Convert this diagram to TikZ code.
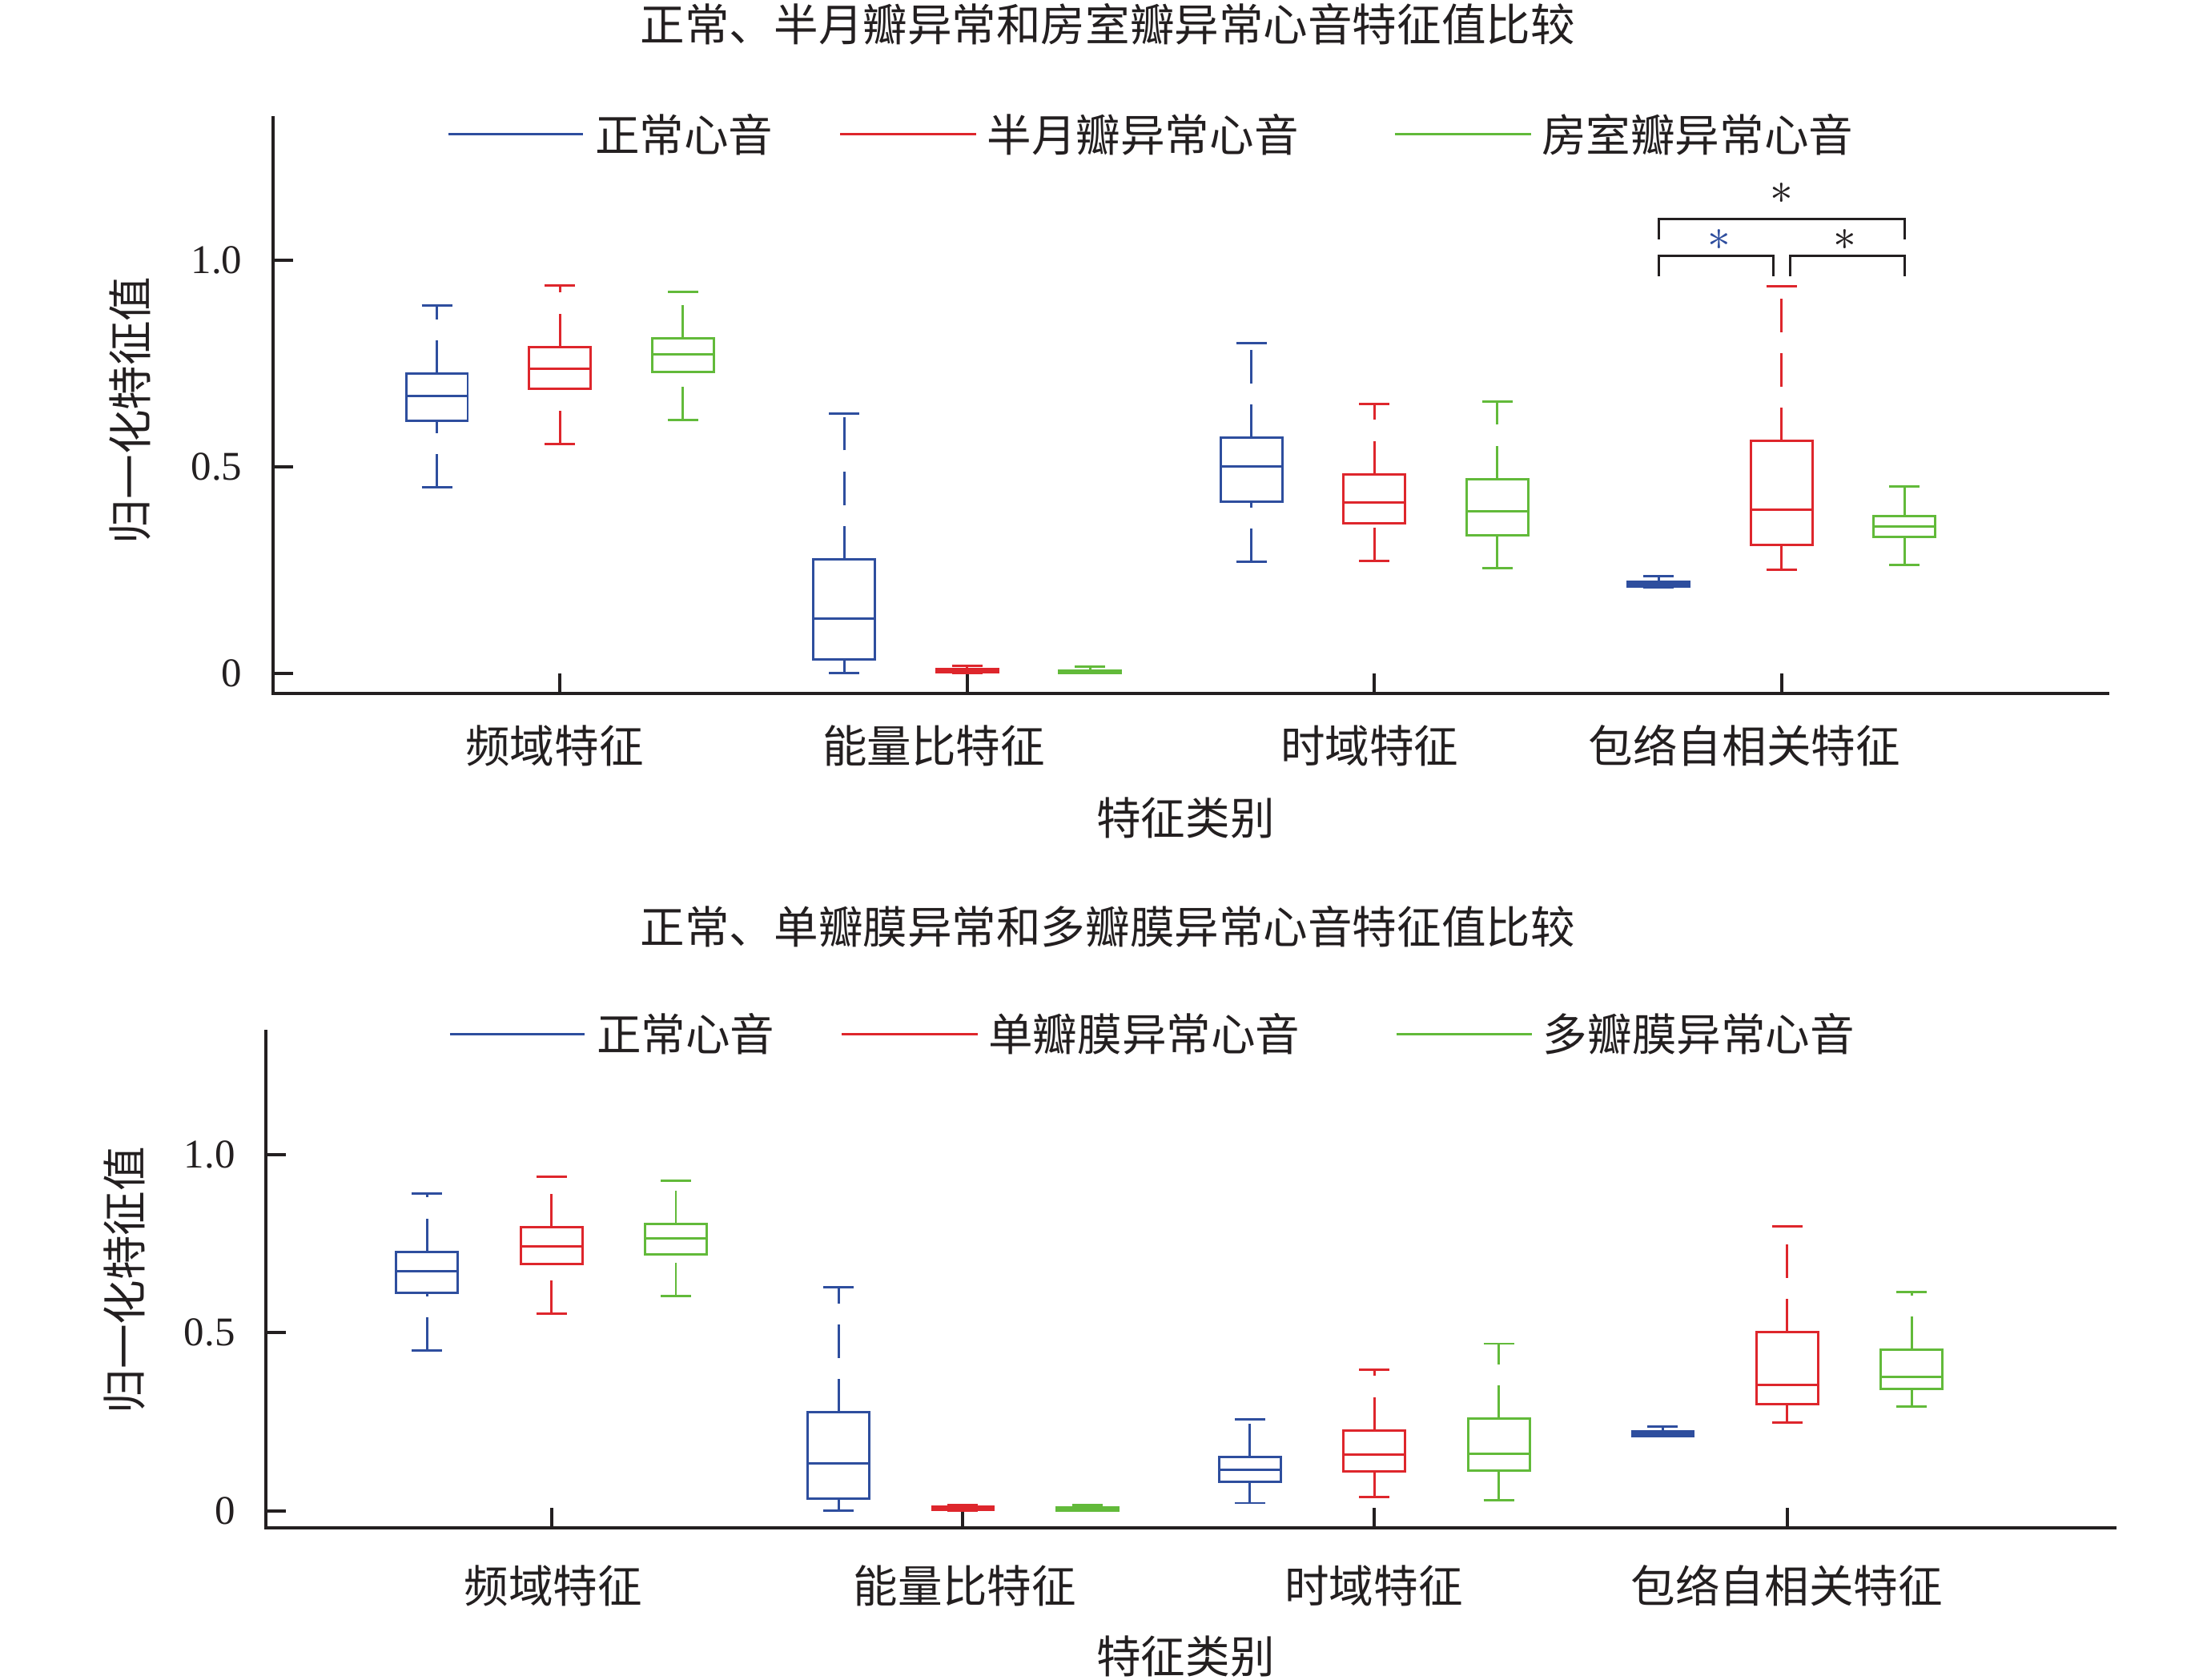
\documentclass[tikz,border=0pt]{standalone}
\usepackage{fontspec}
\setmainfont{Liberation Serif}
\newfontfamily\cjk{Noto Sans CJK SC}

\definecolor{boxblue}{RGB}{46,78,158}
\definecolor{boxred}{RGB}{222,38,44}
\definecolor{boxgreen}{RGB}{98,186,58}
\definecolor{inkblack}{RGB}{35,31,32}

\tikzset{
  axisline/.style={line width=0.65pt, inkblack},
  boxline/.style={line width=0.48pt},
  whisker/.style={boxline, dash pattern=on 0.235cm off 0.15cm},
  cnlabel/.style={font=\cjk\fontsize{8.95}{10}\selectfont, inner sep=0pt, text=inkblack},
  numlabel/.style={font=\fontsize{8.2}{10}\selectfont, inner sep=0pt, anchor=east, text=inkblack},
  starlabel/.style={font=\fontsize{9.5}{10}\selectfont, inner sep=0pt},
}

% one box: x, low, q1, median, q3, high, colour
\newcommand{\bplot}[7]{%
  \draw[whisker,#7] (#1,#2) -- (#1,#3);
  \draw[whisker,#7] (#1,#5) -- (#1,#6);
  \draw[boxline,#7] (#1-10.75,#2) -- (#1+10.75,#2);
  \draw[boxline,#7] (#1-10.75,#6) -- (#1+10.75,#6);
  \draw[boxline,#7] (#1-21.75,#3) rectangle (#1+21.75,#5);
  \draw[boxline,#7] (#1-21.75,#4) -- (#1+21.75,#4);
}

\begin{document}
\begin{tikzpicture}

    \useasboundingbox (0,0) rectangle (15.6,11.87);

    % 1. Upper panel: titles and legend
    \node[cnlabel] (title1) at (7.83,11.70) {正常、半月瓣异常和房室瓣异常心音特征值比较};
    \draw[boxline,boxblue]  (3.17,10.92) -- (4.12,10.92);
    \node[cnlabel,anchor=west] (legA1) at (4.20,10.92) {正常心音};
    \draw[boxline,boxred]   (5.94,10.92) -- (6.90,10.92);
    \node[cnlabel,anchor=west] (legA2) at (6.97,10.92) {半月瓣异常心音};
    \draw[boxline,boxgreen] (9.86,10.92) -- (10.82,10.92);
    \node[cnlabel,anchor=west] (legA3) at (10.89,10.92) {房室瓣异常心音};
    \node[cnlabel,rotate=90] (ylabA) at (0.92,8.97) {归一化特征值};
    \node[cnlabel] (catA1) at (3.92,6.60) {频域特征};
    \node[cnlabel] (catA2) at (6.60,6.60) {能量比特征};
    \node[cnlabel] (catA3) at (9.68,6.60) {时域特征};
    \node[cnlabel] (catA4) at (12.33,6.60) {包络自相关特征};
    \node[cnlabel] (xlabA) at (8.38,6.09) {特征类别};

    % 2. Upper panel: axes and boxes
    \begin{scope}[x=0.01cm, y=2.92cm, yshift=7.11cm]
        \draw[axisline] (193,1.349) -- (193,-0.048) -- (1492,-0.048);
        \foreach \v/\t [count=\i] in {0/0, 0.5/0.5, 1/1.0} {
            \draw[axisline] (193,\v) -- ++(0.14cm,0pt);
            \node[numlabel] (ytA\i) at (172,\v) {\t};
        }
        \foreach \c in {396,684,972,1260}
            \draw[axisline] (\c,-0.048) -- ++(0pt,0.14cm);

        \foreach \xc/\lo/\qa/\md/\qb/\hi/\cl in {
            309/0.450/0.612/0.672/0.725/0.890/boxblue,
            396/0.556/0.688/0.737/0.790/0.939/boxred,
            483/0.613/0.730/0.773/0.812/0.924/boxgreen,
            597/0.000/0.033/0.132/0.276/0.628/boxblue,
            684/0.000/0.002/0.006/0.010/0.019/boxred,
            771/0.000/0.001/0.004/0.007/0.016/boxgreen,
            885/0.270/0.415/0.501/0.570/0.800/boxblue,
            972/0.272/0.364/0.413/0.482/0.652/boxred,
            1059/0.255/0.334/0.392/0.470/0.658/boxgreen,
            1173/0.209/0.211/0.216/0.222/0.236/boxblue,
            1260/0.250/0.310/0.396/0.562/0.937/boxred,
            1347/0.263/0.330/0.355/0.381/0.452/boxgreen} {
            \bplot{\xc}{\lo}{\qa}{\md}{\qb}{\hi}{\cl}
        }

        % significance brackets
        \draw[boxline,inkblack] (1173,1.050) -- (1173,1.100) -- (1347,1.100) -- (1347,1.050);
        \draw[boxline,inkblack] (1173,0.961) -- (1173,1.011) -- (1254,1.011) -- (1254,0.961);
        \draw[boxline,inkblack] (1266,0.961) -- (1266,1.011) -- (1347,1.011) -- (1347,0.961);
        \node[starlabel,text=inkblack] (sigAll) at (1260,1.161) {$\ast$};
        \node[starlabel,text=boxblue] (sigLeft) at (1216,1.050) {$\ast$};
        \node[starlabel,text=inkblack] (sigRight) at (1305,1.050) {$\ast$};
    \end{scope}

    % 3. Lower panel: titles and legend
    \node[cnlabel] (title2) at (7.83,5.32) {正常、单瓣膜异常和多瓣膜异常心音特征值比较};
    \draw[boxline,boxblue]  (3.18,4.56) -- (4.13,4.56);
    \node[cnlabel,anchor=west] (legB1) at (4.21,4.56) {正常心音};
    \draw[boxline,boxred]   (5.95,4.56) -- (6.91,4.56);
    \node[cnlabel,anchor=west] (legB2) at (6.98,4.56) {单瓣膜异常心音};
    \draw[boxline,boxgreen] (9.87,4.56) -- (10.83,4.56);
    \node[cnlabel,anchor=west] (legB3) at (10.90,4.56) {多瓣膜异常心音};
    \node[cnlabel,rotate=90] (ylabB) at (0.88,2.82) {归一化特征值};
    \node[cnlabel] (catB1) at (3.91,0.66) {频域特征};
    \node[cnlabel] (catB2) at (6.82,0.66) {能量比特征};
    \node[cnlabel] (catB3) at (9.71,0.66) {时域特征};
    \node[cnlabel] (catB4) at (12.63,0.66) {包络自相关特征};
    \node[cnlabel] (xlabB) at (8.38,0.16) {特征类别};

    % 4. Lower panel: axes and boxes
    \begin{scope}[x=0.01cm, y=2.52cm, yshift=1.19cm]
        \draw[axisline] (188,1.349) -- (188,-0.048) -- (1497,-0.048);
        \foreach \v/\t [count=\i] in {0/0, 0.5/0.5, 1/1.0} {
            \draw[axisline] (188,\v) -- ++(0.14cm,0pt);
            \node[numlabel] (ytB\i) at (167,\v) {\t};
        }
        \foreach \c in {390,681,972,1264}
            \draw[axisline] (\c,-0.048) -- ++(0pt,0.14cm);

        \foreach \xc/\lo/\qa/\md/\qb/\hi/\cl in {
            302/0.449/0.611/0.672/0.727/0.891/boxblue,
            390/0.554/0.693/0.741/0.795/0.9375/boxred,
            478/0.603/0.719/0.764/0.804/0.925/boxgreen,
            593/0.000/0.034/0.134/0.276/0.627/boxblue,
            681/0.000/0.002/0.006/0.011/0.017/boxred,
            769/0.000/0.001/0.005/0.010/0.017/boxgreen,
            884/0.022/0.081/0.116/0.151/0.257/boxblue,
            972/0.038/0.110/0.157/0.226/0.397/boxred,
            1060/0.029/0.113/0.160/0.258/0.469/boxgreen,
            1176/0.209/0.210/0.216/0.224/0.237/boxblue,
            1264/0.248/0.299/0.354/0.501/0.799/boxred,
            1352/0.293/0.343/0.375/0.452/0.614/boxgreen} {
            \bplot{\xc}{\lo}{\qa}{\md}{\qb}{\hi}{\cl}
        }
    \end{scope}

\end{tikzpicture}
\end{document}
